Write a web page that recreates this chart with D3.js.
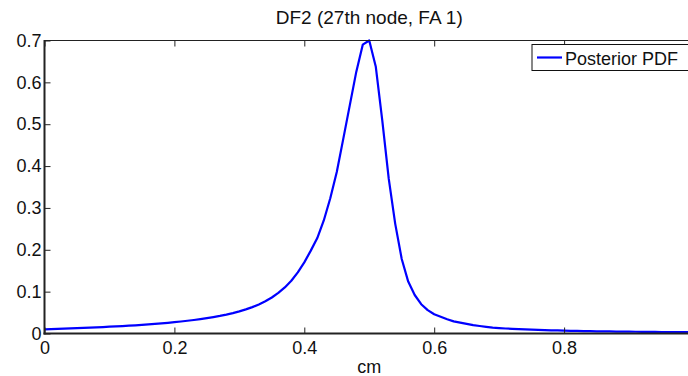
<!DOCTYPE html>
<html>
<head>
<meta charset="utf-8">
<script src="https://cdn.jsdelivr.net/npm/d3@7"></script>
<style>
  body { margin: 0; background: #fff; }
  svg { display: block; font-family: "Liberation Sans", Arial, sans-serif; }
</style>
</head>
<body>
<script>
// posterior pdf, sampled every 0.01 cm
var xs = d3.range(0, 101).map(function (i) { return i / 100; });
var pdf = [
  0.0100, 0.0105, 0.0110, 0.0115, 0.0122, 0.0128, 0.0134, 0.0140, 0.0147, 0.0154,
  0.0162, 0.0170, 0.0178, 0.0187, 0.0196, 0.0206, 0.0217, 0.0229, 0.0242, 0.0256,
  0.0271, 0.0287, 0.0304, 0.0323, 0.0344, 0.0367, 0.0392, 0.0420, 0.0452, 0.0488,
  0.0529, 0.0576, 0.0630, 0.0694, 0.0770, 0.0860, 0.0970, 0.1100, 0.1260, 0.1460,
  0.1700, 0.1980, 0.2280, 0.2700, 0.3230, 0.3860, 0.4650, 0.5450, 0.6250, 0.6900,
  0.7000, 0.6380, 0.5100, 0.3700, 0.2620, 0.1780, 0.1240, 0.0920, 0.0700, 0.0560,
  0.0460, 0.0400, 0.0340, 0.0290, 0.0260, 0.0230, 0.0200, 0.0180, 0.0160, 0.0140,
  0.0130, 0.0120, 0.0112, 0.0105, 0.0098, 0.0092, 0.0087, 0.0082, 0.0077, 0.0073,
  0.0069, 0.0065, 0.0062, 0.0059, 0.0056, 0.0053, 0.0051, 0.0049, 0.0047, 0.0045,
  0.0043, 0.0042, 0.0040, 0.0039, 0.0038, 0.0036, 0.0035, 0.0034, 0.0033, 0.0032,
  0.0031
];
var xTicks = [0, 0.2, 0.4, 0.6, 0.8, 1];
var xTickLabels = ["0", "0.2", "0.4", "0.6", "0.8", ""]; // "1" falls off the right edge
var yTicks = [0, 0.1, 0.2, 0.3, 0.4, 0.5, 0.6, 0.7];
var yTickLabels = ["0", "0.1", "0.2", "0.3", "0.4", "0.5", "0.6", "0.7"];
var title = "DF2 (27th node, FA 1)";
var xLabel = "cm";
var seriesName = "Posterior PDF";

var W = 688, H = 376;
var mLeft = 44.5, mRight = 694, mTop = 40.5, mBottom = 333.5;

var svg = d3.select("body").append("svg")
  .attr("width", W)
  .attr("height", H);

var x = d3.scaleLinear().domain([0, 1]).range([mLeft, mRight]);
var y = d3.scaleLinear().domain([0, 0.7]).range([mBottom, mTop]);

// curve
var line = d3.line()
  .x(function (d, i) { return x(xs[i]); })
  .y(function (d) { return y(d); });

svg.append("path")
  .datum(pdf)
  .attr("d", line)
  .attr("fill", "none")
  .attr("stroke", "#0000ff")
  .attr("stroke-width", 2.2)
  .attr("stroke-linejoin", "round");

// axes box
var ax = svg.append("g").attr("class", "axes");

ax.append("g")
  .attr("transform", "translate(0," + mBottom + ")")
  .call(d3.axisBottom(x).tickValues(xTicks)
    .tickFormat(function (d, i) { return xTickLabels[i]; })
    .tickSize(-6).tickPadding(8));

ax.append("g")
  .attr("transform", "translate(0," + mTop + ")")
  .call(d3.axisTop(x).tickValues(xTicks).tickFormat("").tickSize(-6));

ax.append("g")
  .attr("transform", "translate(" + mLeft + ",0)")
  .call(d3.axisLeft(y).tickValues(yTicks)
    .tickFormat(function (d, i) { return yTickLabels[i]; })
    .tickSize(-6).tickPadding(3));

ax.append("g")
  .attr("transform", "translate(" + mRight + ",0)")
  .call(d3.axisRight(y).tickValues(yTicks).tickFormat("").tickSize(-6));

ax.selectAll(".domain").remove();
ax.selectAll(".tick line").attr("stroke", "#222").attr("stroke-width", 1);
ax.selectAll(".tick text")
  .attr("fill", "#111")
  .style("font-size", "18px")
  .style("font-family", "'Liberation Sans', Arial, sans-serif");

// box edges: left and bottom heavier like the reference
ax.append("line").attr("x1", mLeft).attr("x2", mRight).attr("y1", mTop).attr("y2", mTop)
  .attr("stroke", "#222").attr("stroke-width", 1);
ax.append("line").attr("x1", mRight).attr("x2", mRight).attr("y1", mTop).attr("y2", mBottom)
  .attr("stroke", "#222").attr("stroke-width", 1);
ax.append("line").attr("x1", mLeft).attr("x2", mLeft).attr("y1", mTop - 0.5).attr("y2", mBottom + 1)
  .attr("stroke", "#222").attr("stroke-width", 2);
ax.append("line").attr("x1", mLeft - 1).attr("x2", mRight).attr("y1", mBottom).attr("y2", mBottom)
  .attr("stroke", "#222").attr("stroke-width", 2);

// title and x label
svg.append("text")
  .attr("x", (mLeft + mRight) / 2)
  .attr("y", 24)
  .attr("text-anchor", "middle")
  .style("font-size", "19px")
  .attr("fill", "#111")
  .text(title);

svg.append("text")
  .attr("x", (mLeft + mRight) / 2)
  .attr("y", 373)
  .attr("text-anchor", "middle")
  .style("font-size", "18px")
  .attr("fill", "#111")
  .text(xLabel);

// legend
var lg = svg.append("g").attr("transform", "translate(532,44.5)");
lg.append("rect")
  .attr("width", 160).attr("height", 26)
  .attr("fill", "#fff").attr("stroke", "#111").attr("stroke-width", 1);
lg.append("line")
  .attr("x1", 5).attr("x2", 30).attr("y1", 13).attr("y2", 13)
  .attr("stroke", "#0000ff").attr("stroke-width", 2.2);
lg.append("text")
  .attr("x", 33).attr("y", 20.5)
  .style("font-size", "18px")
  .attr("fill", "#111")
  .text(seriesName);
</script>
</body>
</html>
